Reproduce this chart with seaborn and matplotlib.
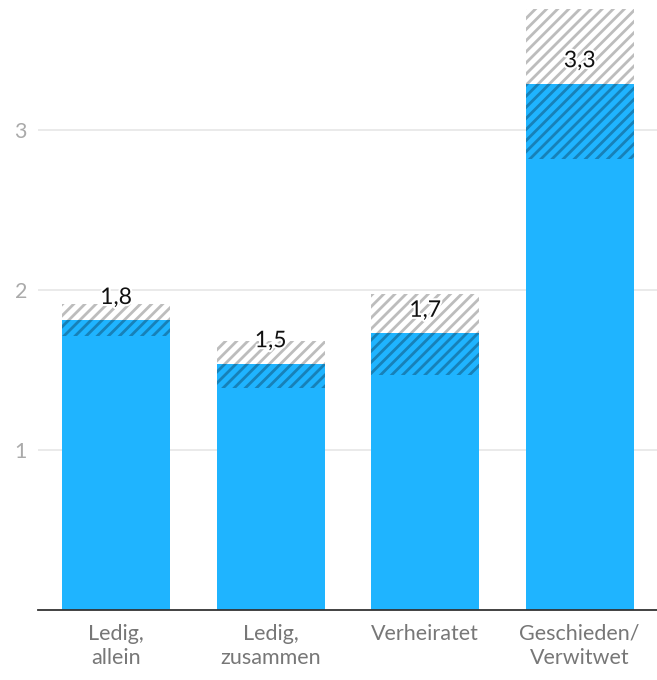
import matplotlib
matplotlib.use("Agg")
import matplotlib.pyplot as plt
import matplotlib.patheffects as pe
import pandas as pd
import seaborn as sns

# Data: point estimate with lower/upper bounds per marital status
categories = ["Ledig,\nallein", "Ledig,\nzusammen", "Verheiratet", "Geschieden/\nVerwitwet"]
estimate = [1.81, 1.54, 1.73, 3.29]
lower = [1.71, 1.39, 1.47, 2.82]
upper = [1.91, 1.68, 1.975, 3.755]
y_ticks = [1, 2, 3]

df = pd.DataFrame({"kategorie": categories, "schaetzung": estimate,
                   "unten": lower, "oben": upper})

sns.set_theme(style="white")
plt.rcParams["font.family"] = ["Lato", "DejaVu Sans"]
plt.rcParams["hatch.linewidth"] = 2.0

BLUE = "#1fb4ff"
DARK_BLUE = "#1781b8"
GREY_HATCH = "#bdbdbd"

fig = plt.figure(figsize=(6.57, 6.80), dpi=100)
ax = fig.add_axes([38 / 657, 70 / 680, 1 - 38 / 657, 610 / 680])

# upper bound: grey hatched on white
sns.barplot(data=df, x="kategorie", y="oben", color="white", edgecolor=GREY_HATCH,
            hatch="///", linewidth=0, width=0.7, saturation=1, ax=ax, zorder=2)
# point estimate: blue with darker hatching
sns.barplot(data=df, x="kategorie", y="schaetzung", color=BLUE, edgecolor=DARK_BLUE,
            hatch="///", linewidth=0, width=0.7, saturation=1, ax=ax, zorder=3)
# lower bound: solid blue
sns.barplot(data=df, x="kategorie", y="unten", color=BLUE, edgecolor=BLUE,
            linewidth=0, width=0.7, saturation=1, ax=ax, zorder=4)

for i, v in enumerate(estimate):
    ax.annotate(f"{v:.1f}".replace(".", ","), (i, v), xytext=(0, 16.5),
                textcoords="offset points", ha="center", va="center",
                fontsize=16.5, color="#111111", zorder=6,
                path_effects=[pe.withStroke(linewidth=3, foreground="white")])

ax.set_xlim(-0.505, 3.5)
ax.set_ylim(0, 610 / 160)
ax.set_yticks(y_ticks)
ax.set_yticklabels([str(t) for t in y_ticks])
ax.yaxis.grid(True, color="#e6e6e6", linewidth=1.2, zorder=0)
ax.set_axisbelow(True)
ax.set_xlabel("")
ax.set_ylabel("")

for s in ["top", "right", "left"]:
    ax.spines[s].set_visible(False)
ax.spines["bottom"].set_color("#333333")
ax.spines["bottom"].set_linewidth(1.3)
ax.spines["bottom"].set_zorder(7)

ax.tick_params(axis="x", length=0, pad=10, labelsize=15.5, colors="#777777")
ax.tick_params(axis="y", length=0, pad=8, labelsize=15.5, colors="#aaaaaa")
for lbl in ax.get_xticklabels():
    lbl.set_linespacing(1.25)

fig.savefig("out.png", dpi=100)
